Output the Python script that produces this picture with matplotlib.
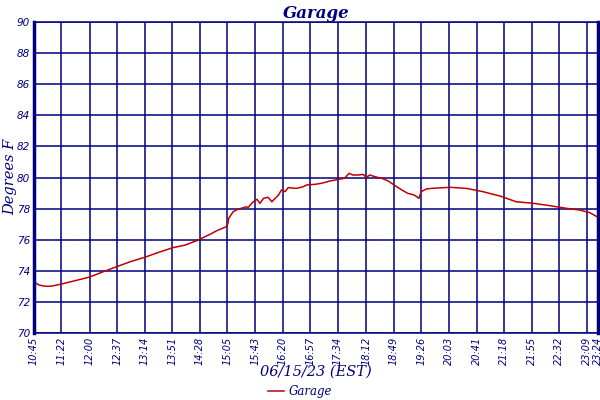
import matplotlib
matplotlib.use("Agg")
import matplotlib.pyplot as plt
from matplotlib.lines import Line2D

times = ["10:45","10:51","10:57","11:03","11:09","11:15","11:22","11:40","12:00","12:18",
         "12:36","12:55","13:14","13:33","13:52","14:08","14:24","14:42","14:51","15:04",
         "15:06","15:07","15:13","15:20","15:27","15:31","15:33","15:40","15:45","15:49",
         "15:54","16:00","16:05","16:14","16:18","16:23","16:27","16:38","16:47","16:52",
         "17:03","17:12","17:23","17:37","17:43","17:49","17:54","18:01","18:08","18:12",
         "18:17","18:24","18:33","18:42","18:51","19:00","19:08","19:17","19:23","19:26",
         "19:33","19:40","20:05","20:27","20:49","21:12","21:34","21:57","22:19","22:41",
         "22:59","23:13","23:24"]
temps = [73.30,73.10,73.03,73.00,73.02,73.08,73.15,73.36,73.60,73.94,
         74.26,74.59,74.87,75.19,75.49,75.65,75.94,76.35,76.58,76.84,
         77.05,77.37,77.80,77.97,78.06,78.12,78.06,78.44,78.60,78.34,
         78.66,78.73,78.44,78.87,79.20,79.09,79.35,79.30,79.40,79.52,
         79.56,79.63,79.77,79.90,79.95,80.27,80.16,80.16,80.20,80.01,
         80.16,80.05,79.95,79.77,79.47,79.20,78.98,78.87,78.66,79.09,
         79.26,79.30,79.37,79.30,79.09,78.81,78.44,78.34,78.19,78.02,
         77.91,77.74,77.44]
tick_labels = ["10:45","11:22","12:00","12:37","13:14","13:51","14:28","15:05","15:43","16:20",
               "16:57","17:34","18:12","18:49","19:26","20:03","20:41","21:18","21:55","22:32",
               "23:09","23:24"]
y_ticks = [70, 72, 74, 76, 78, 80, 82, 84, 86, 88, 90]

def to_min(s):
    h, m = s.split(":")
    return int(h) * 60 + int(m)

x = [to_min(t) for t in times]
xt = [to_min(t) for t in tick_labels]

navy = "#000080"
red = "#C00000"

fig = plt.figure(figsize=(6, 4), dpi=100)
ax = fig.add_axes([34/600, 1-333/400, 564/600, 311/400])
line, = ax.plot(x, temps, color=red, lw=1.1, label="Garage")
ax.set_xlim(xt[0], xt[-1])
ax.set_ylim(70, 90)
ax.set_xticks(xt)
ax.set_xticklabels(tick_labels, rotation=90, fontsize=7, style="italic",
                   color=navy, family="DejaVu Sans")
ax.set_yticks(y_ticks)
ax.set_yticklabels([str(v) for v in y_ticks], fontsize=7.5, style="italic",
                   color=navy, family="DejaVu Sans")
ax.tick_params(axis="both", length=0, pad=3)
ax.grid(True, color=navy, lw=1.1)
ax.set_axisbelow(True)
for side, sp in ax.spines.items():
    sp.set_color(navy)
    sp.set_linewidth(1.1)
ax.spines["left"].set_linewidth(2.5)
ax.spines["right"].set_linewidth(2.5)

ax.set_title("Garage", fontsize=12, style="italic", weight="bold", color=navy,
             family="DejaVu Serif", pad=3)
fig.text(10/600, 1-177/400, "Degrees F", rotation=90, ha="center", va="center",
         fontsize=10.5, style="italic", color=navy, family="DejaVu Serif")
fig.text(316/600, 1-372/400, "06/15/23 (EST)", ha="center", va="center",
         fontsize=10.5, style="italic", color=navy, family="DejaVu Serif")

leg = fig.legend(handles=[line], labels=["Garage"], loc="center",
                 bbox_to_anchor=(300/600, 1-392/400), frameon=False,
                 prop={"family": "DejaVu Serif", "style": "italic", "size": 8.5},
                 handlelength=1.3, handletextpad=0.4, borderpad=0, borderaxespad=0)
for t in leg.get_texts():
    t.set_color(navy)

fig.savefig("out.png", dpi=100)
